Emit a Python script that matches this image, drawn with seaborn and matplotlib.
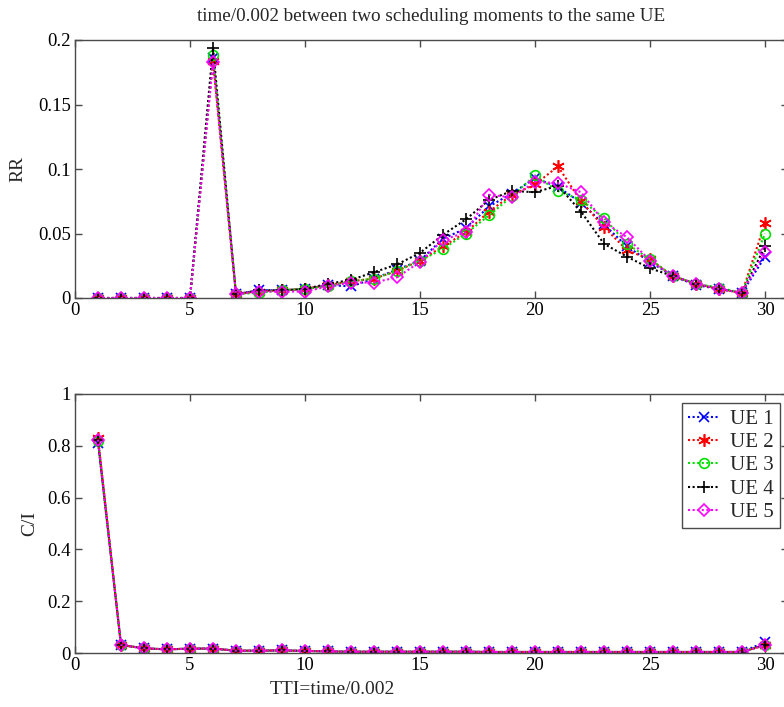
import matplotlib
matplotlib.use("Agg")
import matplotlib.pyplot as plt
import numpy as np
import pandas as pd
import seaborn as sns

# ---- data -------------------------------------------------------------
tti = list(range(1, 31))
ue_names = ["UE 1", "UE 2", "UE 3", "UE 4", "UE 5"]

# Round Robin scheduling: share of gaps (in TTIs) between two grants to one UE
rr_ue1 = [0, 0, 0, 0, 0, 0.186, 0.003, 0.006, 0.006, 0.007, 0.010, 0.009, 0.015, 0.022, 0.029,
          0.046, 0.054, 0.071, 0.081, 0.093, 0.086, 0.074, 0.057, 0.040, 0.028, 0.017, 0.010, 0.007, 0.004, 0.032]
rr_ue2 = [0, 0, 0, 0, 0, 0.184, 0.003, 0.005, 0.006, 0.007, 0.010, 0.013, 0.015, 0.021, 0.029,
          0.040, 0.051, 0.067, 0.080, 0.088, 0.102, 0.075, 0.055, 0.037, 0.030, 0.017, 0.011, 0.007, 0.004, 0.058]
rr_ue3 = [0, 0, 0, 0, 0, 0.188, 0.003, 0.004, 0.006, 0.007, 0.009, 0.013, 0.015, 0.021, 0.029,
          0.038, 0.050, 0.064, 0.079, 0.095, 0.083, 0.076, 0.062, 0.042, 0.030, 0.017, 0.011, 0.008, 0.004, 0.050]
rr_ue4 = [0, 0, 0, 0, 0, 0.194, 0.003, 0.006, 0.006, 0.007, 0.011, 0.014, 0.020, 0.026, 0.035,
          0.049, 0.061, 0.076, 0.083, 0.082, 0.087, 0.067, 0.042, 0.032, 0.023, 0.017, 0.011, 0.007, 0.004, 0.040]
rr_ue5 = [0, 0, 0, 0, 0, 0.183, 0.003, 0.005, 0.005, 0.005, 0.009, 0.012, 0.012, 0.016, 0.028,
          0.045, 0.051, 0.080, 0.078, 0.090, 0.089, 0.082, 0.059, 0.047, 0.029, 0.017, 0.011, 0.007, 0.004, 0.036]

# Max C/I scheduling
ci_common = [0.822, 0.031, 0.018, 0.014, 0.017, 0.017, 0.009, 0.009, 0.010, 0.008,
             0.006, 0.005, 0.005, 0.005, 0.005, 0.005, 0.005, 0.004, 0.004, 0.004,
             0.004, 0.004, 0.004, 0.004, 0.004, 0.004, 0.004, 0.004, 0.004]
ci_ue1 = [0.812] + ci_common[1:] + [0.042]
ci_ue2 = [0.830] + ci_common[1:] + [0.031]
ci_ue3 = [0.820] + ci_common[1:] + [0.031]
ci_ue4 = [0.822] + ci_common[1:] + [0.031]
ci_ue5 = [0.824] + ci_common[1:] + [0.030]

rr_values = [rr_ue1, rr_ue2, rr_ue3, rr_ue4, rr_ue5]
ci_values = [ci_ue1, ci_ue2, ci_ue3, ci_ue4, ci_ue5]

# ---- styles -----------------------------------------------------------
colors = ["#0000ff", "#ff0000", "#00e000", "#000000", "#ff00ff"]
markers = ["x", (6, 2, 0), "o", "+", "D"]
msizes = [7, 9, 7, 9, 6]
filled = [True, True, False, True, False]

sns.set_theme(style="white")
plt.rcParams["font.family"] = ["Liberation Serif", "DejaVu Serif"]

W, H = 784, 707
fig = plt.figure(figsize=(W / 100, H / 100), dpi=100)

x_right = 75 + 31 * 23  # axes extend slightly past the figure edge


def axes_box(left, top, right, bottom):
    return [left / W, 1 - bottom / H, (right - left) / W, (bottom - top) / H]


ax1 = fig.add_axes(axes_box(75, 40, x_right, 298))
ax2 = fig.add_axes(axes_box(75, 394, x_right, 653))


def draw(ax, series):
    for name, vals, c, m, ms, f in zip(ue_names, series, colors, markers, msizes, filled):
        df = pd.DataFrame({"TTI": tti, "val": vals})
        sns.lineplot(
            data=df, x="TTI", y="val", ax=ax, color=c, marker=m, markersize=ms,
            linestyle=(0, (1, 1.2)), linewidth=1.5, label=name,
            markerfacecolor=(c if f else "none"), markeredgecolor=c,
            markeredgewidth=1.2, legend=False,
        )


draw(ax1, rr_values)
draw(ax2, ci_values)

spine_c = "#4a4a4a"
for ax in (ax1, ax2):
    ax.set_xlim(0, 31)
    ax.set_xticks([0, 5, 10, 15, 20, 25, 30])
    ax.set_xticklabels(["0", "5", "10", "15", "20", "25", "30"])
    ax.tick_params(direction="in", length=5, width=1, color=spine_c,
                   top=True, right=True, bottom=True, left=True,
                   labelsize=13.5, pad=3, labelcolor="black")
    for s in ax.spines.values():
        s.set_color(spine_c)
        s.set_linewidth(1.0)
    ax.set_xlabel("")
    ax.set_ylabel("")
    ax.grid(False)

ax1.set_ylim(0, 0.2)
ax1.set_yticks([0, 0.05, 0.1, 0.15, 0.2])
ax1.set_yticklabels(["0", "0.05", "0.1", "0.15", "0.2"])
ax1.set_ylabel("RR", fontsize=14)
ax1.yaxis.set_label_coords((26 - 75) / (x_right - 75), 0.5)
ax1.set_title("time/0.002 between two scheduling moments to the same UE",
              fontsize=13.8, pad=14)

ax2.set_ylim(0, 1)
ax2.set_yticks([0, 0.2, 0.4, 0.6, 0.8, 1])
ax2.set_yticklabels(["0", "0.2", "0.4", "0.6", "0.8", "1"])
ax2.set_ylabel("C/I", fontsize=14)
ax2.yaxis.set_label_coords((38 - 75) / (x_right - 75), 0.5)
ax2.set_xlabel("TTI=time/0.002", fontsize=14)
ax2.xaxis.set_label_coords((332 - 75) / (x_right - 75), -0.11)

handles, labels = ax2.get_legend_handles_labels()
leg = fig.legend(handles, labels, loc="upper right",
                 bbox_to_anchor=(780 / W, 1 - 403 / H),
                 fontsize=15, frameon=True, fancybox=False, framealpha=1,
                 edgecolor=spine_c, handlelength=1.5, handletextpad=0.5,
                 borderpad=0.3, labelspacing=0.18, borderaxespad=0)
leg.get_frame().set_linewidth(1.0)

fig.savefig("out.png", dpi=100, facecolor="white")
